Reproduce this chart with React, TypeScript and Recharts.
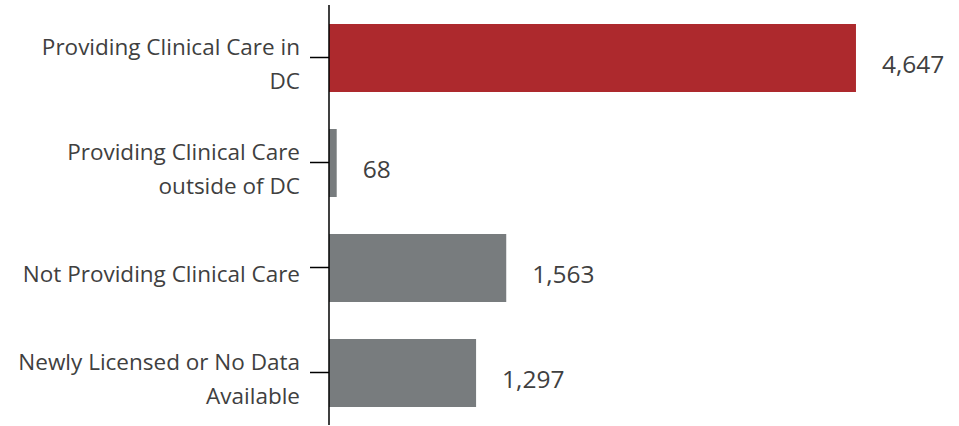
import { BarChart, Bar, XAxis, YAxis, Cell, LabelList } from 'recharts'

const categories = [
  'Providing Clinical Care in DC',
  'Providing Clinical Care outside of DC',
  'Not Providing Clinical Care',
  'Newly Licensed or No Data Available',
]
const tickLines = [
  ['Providing Clinical Care in', 'DC'],
  ['Providing Clinical Care', 'outside of DC'],
  ['Not Providing Clinical Care'],
  ['Newly Licensed or No Data', 'Available'],
]
const counts = [4647, 68, 1563, 1297]
const barColors = ['#AD292D', '#787C7E', '#787C7E', '#787C7E']

const data = categories.map((name, i) => ({ name, value: counts[i], lines: tickLines[i] }))

const font = '"Open Sans", sans-serif'
const textColor = '#404040'

function CategoryTick(props: any) {
  const { x, y, index } = props
  const lines = tickLines[index] ?? [props.payload.value]
  const first = lines.length > 1 ? y - 3 : y + 14
  return (
    <text x={x} y={first} textAnchor="end" fill={textColor} fontSize={22.5} fontFamily={font}>
      {lines.map((l, i) => (
        <tspan key={i} x={x} y={first + i * 34}>{l}</tspan>
      ))}
    </text>
  )
}

function ValueLabel(props: any) {
  const { x, y, width, height, value } = props
  return (
    <text x={x + width + 26} y={y + height / 2 + 15} fill={textColor} fontSize={24.5} fontFamily={font}>
      {Number(value).toLocaleString('en-US')}
    </text>
  )
}

export default function App() {
  return (
    <div style={{ position: 'absolute', left: 0, top: 0, width: 959, height: 426, background: '#fff' }}>
      <BarChart
        width={959}
        height={426}
        data={data}
        layout="vertical"
        margin={{ top: 5, right: 63, bottom: 1, left: 0 }}
        barSize={68}
      >
        <XAxis type="number" domain={[0, 5000]} hide />
        <YAxis
          type="category"
          dataKey="name"
          width={329}
          axisLine={{ stroke: '#000', strokeWidth: 1.5 }}
          tickLine={{ stroke: '#000', strokeWidth: 1.5 }}
          tickSize={19}
          tickMargin={10}
          interval={0}
          tick={<CategoryTick />}
        />
        <Bar dataKey="value" isAnimationActive={false}>
          {data.map((d, i) => (
            <Cell key={d.name} fill={barColors[i]} />
          ))}
          <LabelList dataKey="value" content={<ValueLabel />} />
        </Bar>
      </BarChart>
    </div>
  )
}
